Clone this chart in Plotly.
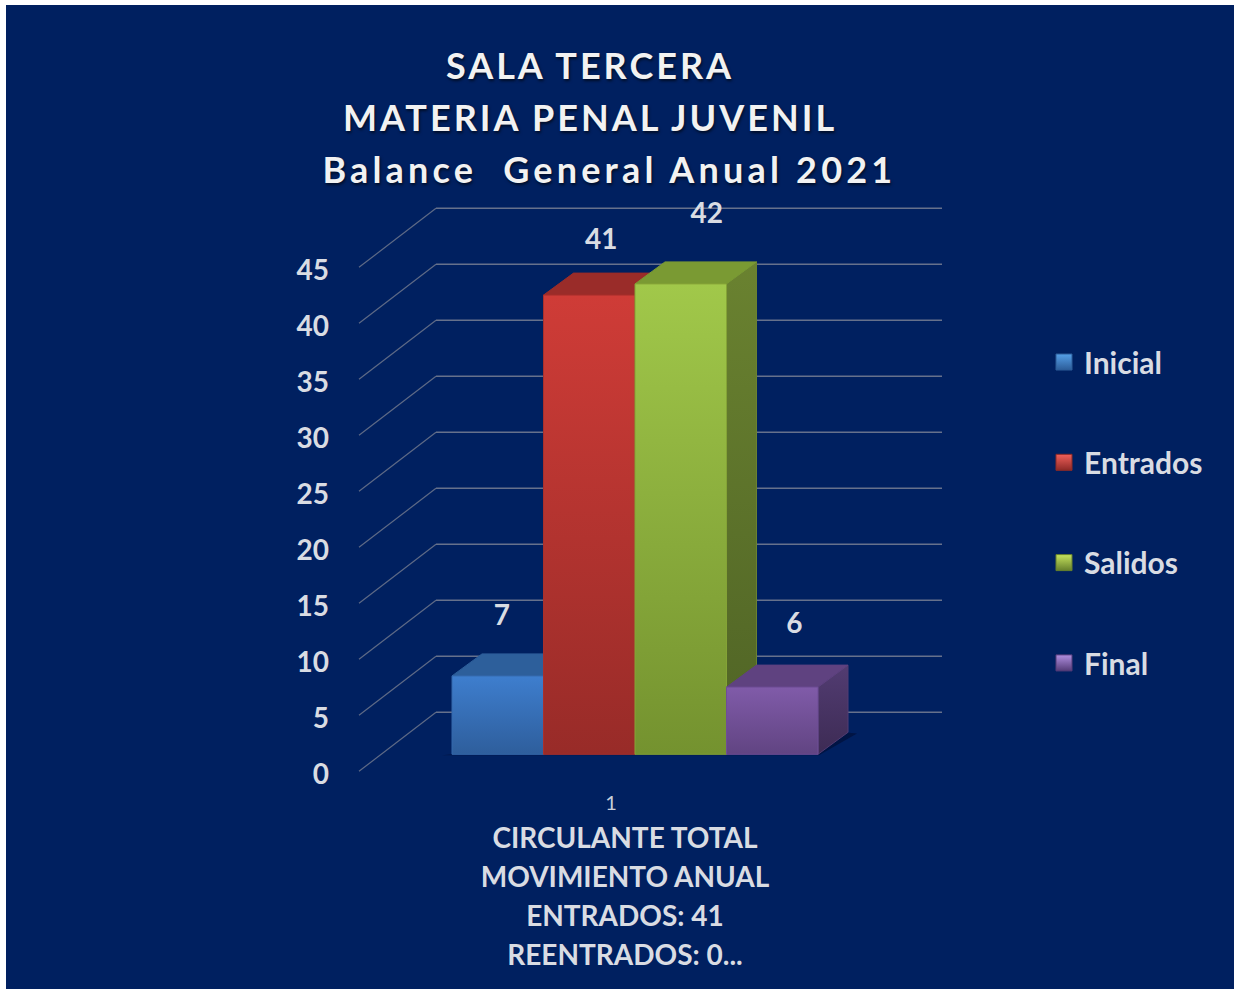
import plotly.graph_objects as go

# ---- data ----
categories = ["1"]
series_names = ["Inicial", "Entrados", "Salidos", "Final"]
series_values = [7, 41, 42, 6]
y_ticks = [0, 5, 10, 15, 20, 25, 30, 35, 40, 45]
title_lines = ["SALA TERCERA", "MATERIA PENAL JUVENIL",
               "\u00a0\u00a0\u00a0Balance\u00a0\u00a0General Anual 2021"]
title_spacing = [3, 3, 4.2]
axis_title_lines = ["CIRCULANTE TOTAL", "MOVIMIENTO ANUAL", "ENTRADOS: 41", "REENTRADOS: 0..."]

# ---- styles ----
NAVY = "#002060"
TEXT = "#D9DCE3"
FRONT = [("#3E7ECE", "#2E5E9C"), ("#CF3C37", "#982B28"), ("#A1C84A", "#74922F"), ("#805BA9", "#614482")]
TOPF = ["#2D5F9B", "#9A2C29", "#7A9A33", "#5F4280"]
SIDE = [("#2A5288", "#234672"), ("#852522", "#6C1E1C"), ("#6A8230", "#4F6325"), ("#523C72", "#3D2B54")]
EDGE = ["#3568AC", "#A9302C", "#84A336", "#6E4E96"]
LEG = [("#55A0E8", "#2C5C98"), ("#F0605A", "#8E2A27"), ("#C6E35E", "#66802C"), ("#B08FE0", "#553C78")]

# ---- geometry (pixel scale of the page -> axes) ----
FW, FH, OX, OY = 1228, 1010, 6, 5
UNIT = 11.2          # px per value unit
Y0 = 771.3           # px of value 0 on the front edge
PLOT_L, PLOT_R, PLOT_T, PLOT_B = 308, 942, 190, 785
WALL_X0, WALL_X1, FRONT_X = 436, 942, 359
WALL_D = 59 / UNIT
BAR_X0, BAR_W = 452, 91.5
BASE = (Y0 - 754.3) / UNIT
DX, DY = 30, 22 / UNIT
LABEL_DX = [4, 12, 26, 22]
LABEL_DY = [58, 53, 68, 61]

fig = go.Figure()

# floor shadow
x_end = BAR_X0 + BAR_W * len(series_values)
fig.add_trace(go.Scatter(
    x=[BAR_X0 - 10, x_end + 1, x_end + DX + 9, x_end + DX - 4, x_end, BAR_X0],
    y=[BASE - 0.08, BASE - 0.08, BASE + DY - 0.1, BASE + DY, BASE, BASE],
    fill="toself", fillcolor="#001444", mode="none", showlegend=False, hoverinfo="skip"))

# wall gridlines and floor diagonals
gx, gy, dx_, dy_ = [], [], [], []
for t in y_ticks:
    gx += [WALL_X0, WALL_X1, None]
    gy += [t + WALL_D, t + WALL_D, None]
    dx_ += [FRONT_X, WALL_X0, None]
    dy_ += [t, t + WALL_D, None]
fig.add_trace(go.Scatter(x=gx, y=gy, mode="lines", line=dict(color="#66718C", width=1.4),
                         showlegend=False, hoverinfo="skip"))
fig.add_trace(go.Scatter(x=dx_, y=dy_, mode="lines", line=dict(color="#5E6A86", width=1.2),
                         showlegend=False, hoverinfo="skip"))


def face(xs, ys, grad=None, color=None, edge=None):
    kw = dict(x=xs + xs[:1], y=ys + ys[:1], fill="toself", mode="lines",
              line=dict(color=edge or "rgba(0,0,0,0)", width=1),
              showlegend=False, hoverinfo="skip")
    if grad:
        kw["fillgradient"] = dict(type="vertical", colorscale=[[0, grad[1]], [1, grad[0]]])
    else:
        kw["fillcolor"] = color
    fig.add_trace(go.Scatter(**kw))


# bars: side, top, front for each series
for i, v in enumerate(series_values):
    x0, x1 = BAR_X0 + i * BAR_W, BAR_X0 + (i + 1) * BAR_W
    top = BASE + v
    face([x1, x1 + DX, x1 + DX, x1], [BASE, BASE + DY, top + DY, top], grad=SIDE[i], edge=SIDE[i][0])
    face([x0, x0 + DX, x1 + DX, x1], [top, top + DY, top + DY, top], color=TOPF[i], edge=TOPF[i])
    face([x0, x1, x1, x0], [BASE, BASE, top, top], grad=FRONT[i], edge=EDGE[i])

# data labels
fig.add_trace(go.Scatter(
    x=[BAR_X0 + (i + 0.5) * BAR_W + LABEL_DX[i] for i in range(len(series_values))],
    y=[BASE + v + LABEL_DY[i] / UNIT for i, v in enumerate(series_values)],
    text=[str(v) for v in series_values], mode="text",
    textfont=dict(family="Lato", size=28, color=TEXT, weight=700),
    textposition="middle center", cliponaxis=False, showlegend=False, hoverinfo="skip"))

# legend entries
for i, name in enumerate(series_names):
    fig.add_trace(go.Scatter(
        x=[None], y=[None], mode="markers", name=name, legendgroup=name,
        marker=dict(symbol="square", size=18, color=LEG[i][0],
                    gradient=dict(type="vertical", color=LEG[i][1]),
                    line=dict(color=LEG[i][1], width=1)),
        hoverinfo="skip"))

title_html = "<br>".join(
    f'<span style="font-size:36px;letter-spacing:{ls}px">{t}</span>'
    for t, ls in zip(title_lines, title_spacing))
axis_title_html = "<br>".join(
    f'<span style="font-size:28px">{t}</span>' for t in axis_title_lines)

fig.update_layout(
    width=FW, height=FH,
    margin=dict(l=0, r=0, t=0, b=0),
    paper_bgcolor=NAVY, plot_bgcolor="rgba(0,0,0,0)",
    font=dict(family="Lato", color=TEXT),
    hovermode=False,
    title=dict(text=title_html, xref="paper", yref="paper",
               x=(590 - OX) / FW, xanchor="center", y=1 - (79 - OY) / FH, yanchor="top",
               font=dict(family="Lato", size=40, color="#F2F2F2", weight=700,
                         shadow="1px 2px 3px rgba(0,0,0,0.6)")),
    xaxis=dict(domain=[(PLOT_L - OX) / FW, (PLOT_R - OX) / FW], range=[PLOT_L, PLOT_R],
               showgrid=False, zeroline=False, showline=False, ticks="", automargin=False,
               tickmode="array", tickvals=[611], ticktext=categories, ticklabelstandoff=4,
               tickfont=dict(family="Lato", size=20, color="#C8CEDA"),
               title=dict(text=axis_title_html, standoff=13,
                          font=dict(family="Lato", size=30, color=TEXT, weight=700))),
    yaxis=dict(domain=[1 - (PLOT_B - OY) / FH, 1 - (PLOT_T - OY) / FH],
               range=[(Y0 - PLOT_B) / UNIT, (Y0 - PLOT_T) / UNIT],
               anchor="free", position=(329 - OX) / FW, ticklabelshift=3, automargin=False,
               showgrid=False, zeroline=False, showline=False, ticks="",
               tickmode="array", tickvals=y_ticks,
               tickfont=dict(family="Lato", size=28, color=TEXT, weight=700)),
    legend=dict(x=(1044 - OX) / FW, xanchor="left", y=1 - (336 - OY) / FH, yanchor="top",
                tracegroupgap=58.3, font=dict(family="Lato", size=30, color=TEXT, weight=700),
                bgcolor="rgba(0,0,0,0)", itemclick=False, itemdoubleclick=False),
)

post = """
var s=document.createElement('style');
s.textContent='html,body{overflow:hidden;height:989px}body{margin:5px 0 0 6px;background:#fff}';
document.head.appendChild(s);
"""
fig.write_html("out.html", post_script=post, config={"displayModeBar": False})
